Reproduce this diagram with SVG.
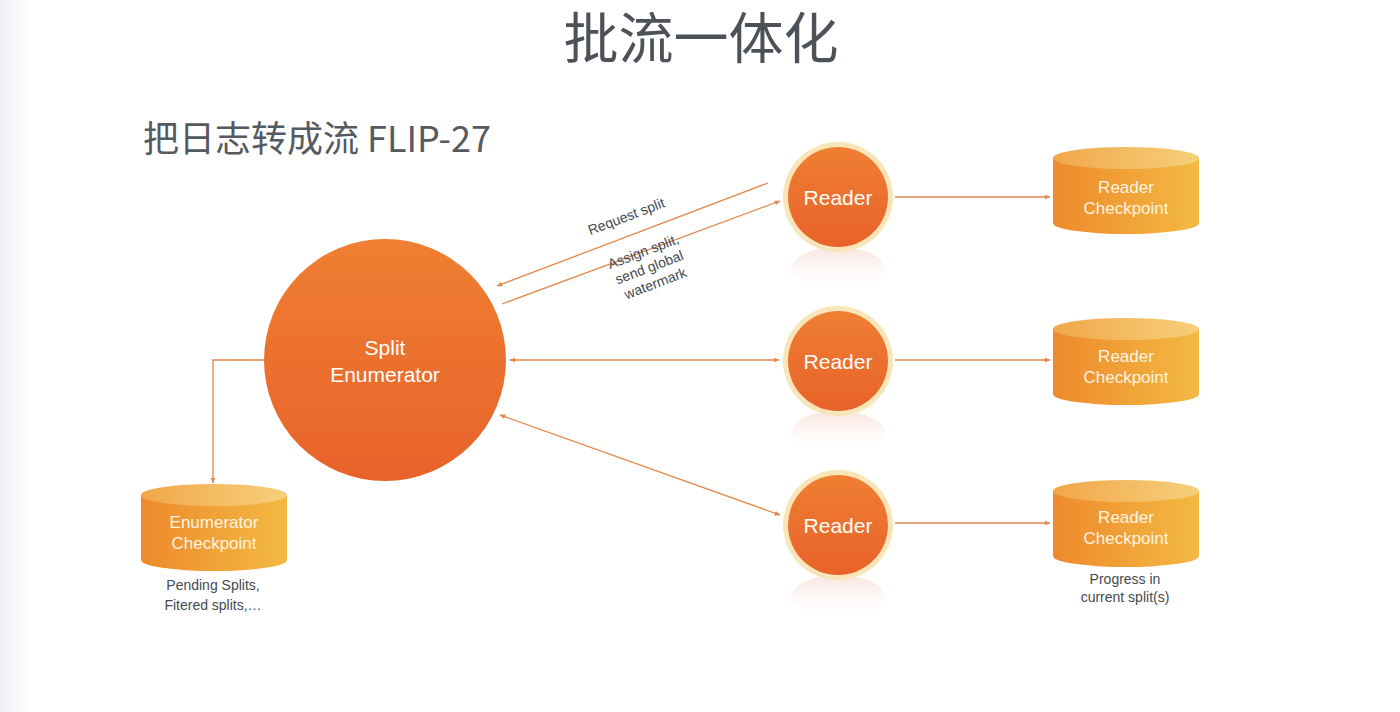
<svg xmlns="http://www.w3.org/2000/svg" width="1400" height="712" viewBox="0 0 1400 712">
<defs>
<style>
.conn{fill:none;stroke:#e2874a;stroke-width:1.3}
.lbl{font-family:"Liberation Sans",Arial,sans-serif;font-size:14px;fill:#454a52;text-anchor:middle}
.wt{font-family:"Liberation Sans",Arial,sans-serif;fill:#ffffff;text-anchor:middle}
.ct{font-family:"Liberation Sans",Arial,sans-serif;font-size:17px;fill:#fff4e2;text-anchor:middle}
</style>
<linearGradient id="edge" x1="0" y1="0" x2="1" y2="0">
<stop offset="0" stop-color="#eef0f3"/><stop offset="1" stop-color="#ffffff"/>
</linearGradient>
<linearGradient id="orb" x1="0" y1="0" x2="0" y2="1">
<stop offset="0" stop-color="#ef7f32"/><stop offset="1" stop-color="#e8622a"/>
</linearGradient>
<linearGradient id="cylBody" x1="0" y1="0" x2="1" y2="0">
<stop offset="0" stop-color="#ee8a2c"/><stop offset="1" stop-color="#f3b943"/>
</linearGradient>
<linearGradient id="cylTop" x1="0" y1="0" x2="1" y2="0">
<stop offset="0" stop-color="#f1a64a"/><stop offset="1" stop-color="#f6d07a"/>
</linearGradient>
<linearGradient id="refl" x1="0" y1="0" x2="0" y2="1">
<stop offset="0" stop-color="#f3cfc0" stop-opacity="0.55"/><stop offset="1" stop-color="#ffffff" stop-opacity="0"/>
</linearGradient>
<marker id="ah" viewBox="0 0 10 10" refX="9" refY="5" markerWidth="6" markerHeight="6" orient="auto-start-reverse" markerUnits="userSpaceOnUse">
<path d="M0,1 L10,5 L0,9 Z" fill="#e2874a"/>
</marker>
<g id="cyl">
<path d="M0,11 L0,76 A73,11 0 0 0 146,76 L146,11 Z" fill="url(#cylBody)"/>
<ellipse cx="73" cy="11" rx="73" ry="11" fill="url(#cylTop)"/>
</g>
<g id="reader">
<ellipse cx="0" cy="72" rx="47" ry="22" fill="url(#refl)"/>
<circle cx="0" cy="0" r="55" fill="#f8e5b8"/>
<circle cx="0" cy="0" r="50" fill="url(#orb)"/>
</g>
</defs>
<rect width="1400" height="712" fill="#ffffff"/>
<rect width="30" height="712" fill="url(#edge)"/>

<text x="701" y="58" font-family="'Noto Sans CJK SC',sans-serif" font-size="55" fill="#4d5258" text-anchor="middle">批流一体化</text>
<text x="143" y="152" font-family="'Noto Sans CJK SC',sans-serif" font-size="36" fill="#555a61">把日志转成流 FLIP-27</text>

<g id="connectors">
<line class="conn" x1="768" y1="183" x2="497" y2="286" marker-end="url(#ah)"/>
<line class="conn" x1="502" y1="304" x2="780" y2="201" marker-end="url(#ah)"/>
<line class="conn" x1="510" y1="360" x2="779" y2="360" marker-start="url(#ah)" marker-end="url(#ah)"/>
<line class="conn" x1="500" y1="415" x2="780" y2="515" marker-start="url(#ah)" marker-end="url(#ah)"/>
<line class="conn" x1="895" y1="197" x2="1050" y2="197" marker-end="url(#ah)"/>
<line class="conn" x1="895" y1="360" x2="1050" y2="360" marker-end="url(#ah)"/>
<line class="conn" x1="895" y1="523" x2="1050" y2="523" marker-end="url(#ah)"/>
<polyline class="conn" points="264,360 213,360 213,483" marker-end="url(#ah)"/>
<text class="lbl" transform="translate(628,221) rotate(-20.8)">Request split</text>
<g transform="translate(645,256) rotate(-20.8)">
<text class="lbl" x="0" y="0">Assign split,</text>
<text class="lbl" x="0" y="17">send global</text>
<text class="lbl" x="0" y="34">watermark</text>
</g>
</g>

<g id="split-enumerator">
<circle cx="385" cy="360" r="121" fill="url(#orb)"/>
<text class="wt" x="385" y="355" font-size="21">Split</text>
<text class="wt" x="385" y="382" font-size="21">Enumerator</text>
</g>

<g id="reader1">
<use href="#reader" x="838" y="197"/>
<text class="wt" x="838" y="205" font-size="21">Reader</text>
</g>
<g id="reader2">
<use href="#reader" x="838" y="361"/>
<text class="wt" x="838" y="369" font-size="21">Reader</text>
</g>
<g id="reader3">
<use href="#reader" x="838" y="525"/>
<text class="wt" x="838" y="533" font-size="21">Reader</text>
</g>

<g id="reader-checkpoint1">
<use href="#cyl" x="1053" y="147"/>
<text class="ct" x="1126" y="193">Reader</text>
<text class="ct" x="1126" y="214">Checkpoint</text>
</g>
<g id="reader-checkpoint2">
<use href="#cyl" x="1053" y="318"/>
<text class="ct" x="1126" y="362">Reader</text>
<text class="ct" x="1126" y="383">Checkpoint</text>
</g>
<g id="reader-checkpoint3">
<use href="#cyl" x="1053" y="480"/>
<text class="ct" x="1126" y="523">Reader</text>
<text class="ct" x="1126" y="544">Checkpoint</text>
<text class="lbl" x="1125" y="584">Progress in</text>
<text class="lbl" x="1125" y="602">current split(s)</text>
</g>
<g id="enumerator-checkpoint">
<use href="#cyl" x="141" y="484"/>
<text class="ct" x="214" y="528">Enumerator</text>
<text class="ct" x="214" y="549">Checkpoint</text>
<text class="lbl" x="213" y="590">Pending Splits,</text>
<text class="lbl" x="213" y="610">Fitered splits,…</text>
</g>
</svg>
